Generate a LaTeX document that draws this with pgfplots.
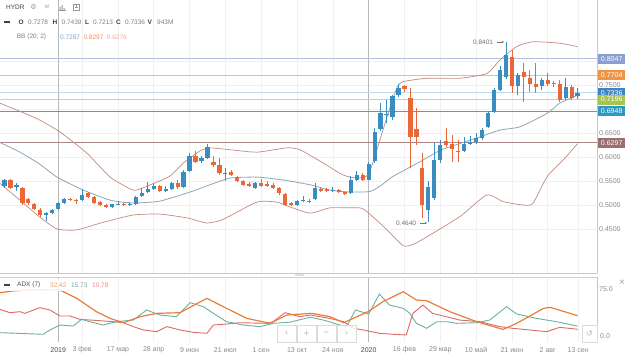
\documentclass[border=0pt]{standalone}
\usepackage{pgfplots}
\pgfplotsset{compat=1.18}
\usepackage{pgfplotstable}
\usetikzlibrary{arrows.meta}
\usepackage{fontspec}
\setmainfont{Liberation Sans}
\newfontfamily\djv{DejaVu Sans}
\newcommand\lbl{\fontsize{7}{8}\selectfont}
\newcommand\hdr{\fontsize{6.5}{7.5}\selectfont}
\definecolor{cup}{HTML}{3A8DC0}
\definecolor{cdn}{HTML}{E8683A}
\definecolor{bbout}{HTML}{C48A80}
\definecolor{bbmid}{HTML}{8FA6B8}
\definecolor{lv1}{HTML}{B5C1DE}\definecolor{lb1}{HTML}{8C9FD2}
\definecolor{lv2}{HTML}{EDB98C}\definecolor{lb2}{HTML}{EE9445}
\definecolor{lv3}{HTML}{BFDDF2}\definecolor{lb3}{HTML}{3C86C4}
\definecolor{lv4}{HTML}{D3D38A}\definecolor{lb4}{HTML}{A9C44E}
\definecolor{lv5}{HTML}{4E9FBE}\definecolor{lb5}{HTML}{2E9AC4}
\definecolor{lv6}{HTML}{AD8585}\definecolor{lb6}{HTML}{9C6E6E}
\definecolor{adxo}{HTML}{E87D3E}
\definecolor{dip}{HTML}{6DB0A0}
\definecolor{dim}{HTML}{DD6A62}
\definecolor{tickgray}{HTML}{8A8A8A}

% weekly candles, x = bar index
\pgfplotstableread{
j O H L C
0 0.540 0.555 0.536 0.552
2 0.539 0.546 0.530 0.541
7 0.479 0.486 0.466 0.483
8 0.483 0.492 0.481 0.490
9 0.491 0.507 0.489 0.505
10 0.505 0.514 0.503 0.512
13 0.511 0.533 0.509 0.520
18 0.495 0.503 0.494 0.501
19 0.501 0.508 0.499 0.503
21 0.500 0.506 0.498 0.503
22 0.502 0.519 0.500 0.517
23 0.519 0.535 0.517 0.524
24 0.526 0.548 0.524 0.533
25 0.534 0.545 0.532 0.540
27 0.530 0.540 0.527 0.533
28 0.534 0.548 0.532 0.546
30 0.537 0.572 0.535 0.569
31 0.571 0.608 0.568 0.602
33 0.592 0.603 0.588 0.597
34 0.598 0.626 0.595 0.620
37 0.566 0.576 0.549 0.567
42 0.535 0.547 0.533 0.545
49 0.500 0.511 0.497 0.508
50 0.509 0.518 0.506 0.511
52 0.513 0.545 0.511 0.535
55 0.530 0.537 0.528 0.532
58 0.524 0.560 0.522 0.552
59 0.553 0.570 0.550 0.562
61 0.553 0.590 0.551 0.586
62 0.592 0.660 0.588 0.653
63 0.658 0.712 0.655 0.692
64 0.688 0.718 0.670 0.690
65 0.683 0.730 0.678 0.726
66 0.729 0.753 0.725 0.743
71 0.490 0.550 0.465 0.537
72 0.514 0.630 0.510 0.594
73 0.594 0.635 0.588 0.625
77 0.613 0.642 0.610 0.628
78 0.627 0.643 0.625 0.632
79 0.632 0.650 0.628 0.639
80 0.639 0.660 0.636 0.656
81 0.662 0.695 0.660 0.691
82 0.694 0.744 0.692 0.740
83 0.740 0.790 0.738 0.781
84 0.767 0.8401 0.763 0.812
86 0.747 0.775 0.729 0.771
90 0.747 0.765 0.740 0.760
94 0.722 0.765 0.718 0.745
96 0.7278 0.7439 0.7213 0.7336
}\upT
\pgfplotstableread{
j O H L C
1 0.551 0.554 0.534 0.536
3 0.536 0.538 0.500 0.504
4 0.512 0.515 0.500 0.504
5 0.502 0.505 0.489 0.492
6 0.490 0.493 0.475 0.479
11 0.513 0.515 0.508 0.510
12 0.510 0.513 0.502 0.509
14 0.524 0.527 0.514 0.517
15 0.517 0.519 0.503 0.505
16 0.507 0.509 0.497 0.499
17 0.500 0.502 0.493 0.495
20 0.502 0.505 0.497 0.500
26 0.539 0.541 0.528 0.530
29 0.546 0.552 0.534 0.537
32 0.602 0.612 0.588 0.590
35 0.590 0.601 0.580 0.584
36 0.584 0.597 0.563 0.566
38 0.569 0.572 0.560 0.562
39 0.559 0.561 0.547 0.549
40 0.549 0.552 0.540 0.542
41 0.544 0.547 0.538 0.540
43 0.545 0.555 0.538 0.540
44 0.543 0.550 0.538 0.540
45 0.542 0.546 0.533 0.535
46 0.536 0.538 0.521 0.524
47 0.523 0.525 0.497 0.500
48 0.504 0.507 0.497 0.502
51 0.509 0.512 0.505 0.508
53 0.534 0.538 0.527 0.529
54 0.533 0.536 0.527 0.529
56 0.531 0.534 0.524 0.526
57 0.526 0.528 0.521 0.523
60 0.562 0.566 0.550 0.552
67 0.747 0.750 0.735 0.741
68 0.722 0.743 0.576 0.641
69 0.658 0.701 0.625 0.642
70 0.576 0.608 0.472 0.500
74 0.634 0.660 0.620 0.625
75 0.628 0.645 0.590 0.616
76 0.613 0.635 0.590 0.610
85 0.809 0.823 0.733 0.747
87 0.776 0.795 0.715 0.767
88 0.765 0.781 0.736 0.753
89 0.752 0.795 0.733 0.745
91 0.760 0.774 0.748 0.753
92 0.755 0.758 0.745 0.752
93 0.752 0.760 0.715 0.719
95 0.745 0.750 0.719 0.722
}\dnT

\begin{document}
\begin{tikzpicture}[x=1pt,y=1pt]
\useasboundingbox (0,0) rectangle (630,355);
\fill[white] (0,0) rectangle (630,355);
\tikzset{lvbox/.style={anchor=west, font=\lbl, text=white, inner xsep=2.8pt, inner ysep=0pt, minimum height=10pt, xshift=1pt},
         ptick/.style={anchor=west, font=\lbl, text=tickgray, inner sep=0pt, xshift=2pt}}

%================ price panel
\begin{axis}[
  at={(0pt,82pt)}, anchor=south west, scale only axis,
  width=597pt, height=273pt,
  xmin=-0.754, xmax=99.25, ymin=0.3583, ymax=0.927,
  clip=false, axis line style={draw=none}, major tick length=0pt,
  xtick={9,13,19,25,31,37,43,49,55,61,67,73,79,85,91,96.1},
  xticklabels={}, ytick={0.45,0.5,0.55,0.6,0.65,0.7,0.75,0.8}, yticklabels={},
  grid=major, major grid style={draw=black!6, line width=0.5pt},
]
\draw[black!28, line width=0.6pt] (axis cs:9,0.3583) -- (axis cs:9,0.927);
\draw[black!28, line width=0.6pt] (axis cs:61,0.3583) -- (axis cs:61,0.927);
\draw[black!22, line width=0.5pt] (axis cs:99.25,0.3583) -- (axis cs:99.25,0.927);
\draw[black!22, line width=0.5pt] (axis cs:-0.754,0.3583) -- (axis cs:99.25,0.3583);

% horizontal levels
\addplot[lv1, line width=0.8pt] coordinates {(-0.754,0.8047) (99.25,0.8047)};
\addplot[lv2, line width=0.8pt] coordinates {(-0.754,0.7704) (99.25,0.7704)};
\addplot[lv3, line width=0.8pt] coordinates {(-0.754,0.7336) (99.25,0.7336)};
\addplot[lv4, line width=0.8pt] coordinates {(-0.754,0.7196) (99.25,0.7196)};
\addplot[lv5, line width=0.8pt] coordinates {(-0.754,0.6948) (99.25,0.6948)};
\addplot[lv6, line width=0.8pt] coordinates {(-0.754,0.6297) (99.25,0.6297)};

% Bollinger bands
\addplot[bbout, line width=0.7pt, smooth, tension=0.35] coordinates {
(-0.754,0.712) (2.6,0.695) (5.9,0.677) (9.3,0.652) (13.8,0.608) (17.7,0.558) (21.5,0.531) (23,0.535) (25,0.545) (27.7,0.560) (30.2,0.590) (32.7,0.612) (34.4,0.619) (37.8,0.615) (42.3,0.610) (47.3,0.619) (49.5,0.615) (53.3,0.588) (56.7,0.5625) (59.0,0.556) (60.9,0.562) (62.0,0.600) (63.0,0.640) (64.5,0.700) (65.8,0.746) (66.8,0.757) (70.8,0.764) (76.3,0.764) (80.8,0.774) (83.0,0.802) (85.8,0.830) (88.5,0.840) (93.0,0.837) (96,0.8297)};
\addplot[bbmid, line width=0.8pt, smooth, tension=0.35] coordinates {
(-0.754,0.630) (2.6,0.610) (5.9,0.585) (8.8,0.558) (13.2,0.531) (17.7,0.510) (21.5,0.504) (26.0,0.508) (31.1,0.527) (34.4,0.542) (37.8,0.556) (42.3,0.558) (46.7,0.552) (51.2,0.542) (54.5,0.531) (57.9,0.527) (61.2,0.528) (63.0,0.540) (65.0,0.559) (69.6,0.590) (73.0,0.614) (76.3,0.628) (79.7,0.642) (83.0,0.656) (86.4,0.663) (90.9,0.691) (93.0,0.712) (96,0.7287)};
\addplot[bbout, line width=0.7pt, smooth, tension=0.35] coordinates {
(-0.754,0.545) (2.6,0.510) (5.9,0.475) (8.8,0.450) (12.1,0.448) (16.0,0.462) (21.5,0.479) (26.0,0.481) (30.6,0.473) (33.9,0.4625) (36.6,0.470) (42.3,0.506) (45.6,0.506) (47.8,0.496) (51.2,0.483) (54.5,0.494) (57.4,0.494) (59.9,0.493) (62.0,0.472) (64.1,0.448) (66.8,0.415) (68.5,0.418) (70.8,0.434) (76.3,0.476) (80.8,0.521) (83.5,0.507) (86.8,0.500) (88.5,0.503) (90.9,0.559) (93.6,0.594) (96,0.6276)};

% candles: wicks
\addplot[draw=none, error bars/.cd, y dir=both, y explicit, error mark=none,
  error bar style={draw=cup, line width=0.8pt}]
  table[x=j, y expr={(\thisrow{H}+\thisrow{L})/2}, y error expr={(\thisrow{H}-\thisrow{L})/2}] {\upT};
\addplot[draw=none, error bars/.cd, y dir=both, y explicit, error mark=none,
  error bar style={draw=cdn, line width=0.8pt}]
  table[x=j, y expr={(\thisrow{H}+\thisrow{L})/2}, y error expr={(\thisrow{H}-\thisrow{L})/2}] {\dnT};
% candles: bodies
\addplot[draw=none, error bars/.cd, y dir=both, y explicit, error mark=none,
  error bar style={draw=cup, line width=4.2pt}]
  table[x=j, y expr={(\thisrow{O}+\thisrow{C})/2}, y error expr={max(abs(\thisrow{C}-\thisrow{O})/2,0.0008)}] {\upT};
\addplot[draw=none, error bars/.cd, y dir=both, y explicit, error mark=none,
  error bar style={draw=cdn, line width=4.2pt}]
  table[x=j, y expr={(\thisrow{O}+\thisrow{C})/2}, y error expr={max(abs(\thisrow{C}-\thisrow{O})/2,0.0008)}] {\dnT};

% right price scale
\node[ptick] at (axis cs:99.25,0.45) {0.4500};
\node[ptick] at (axis cs:99.25,0.50) {0.5000};
\node[ptick] at (axis cs:99.25,0.55) {0.5500};
\node[ptick] at (axis cs:99.25,0.60) {0.6000};
\node[ptick] at (axis cs:99.25,0.65) {0.6500};
\node[ptick] at (axis cs:99.25,0.70) {0.7000};
\node[ptick] at (axis cs:99.25,0.75) {0.7500};
\node[ptick] at (axis cs:99.25,0.80) {0.8000};
\node[lvbox, fill=lb3] at (axis cs:99.25,0.7336) {0.7336};
\node[lvbox, fill=lb1] at (axis cs:99.25,0.8047) {0.8047};
\node[lvbox, fill=lb2] at (axis cs:99.25,0.7704) {0.7704};
\node[lvbox, fill=lb4] at (axis cs:99.25,0.7196) {0.7196};
\node[lvbox, fill=lb5] at (axis cs:99.25,0.6948) {0.6948};
\node[lvbox, fill=lb6] at (axis cs:99.25,0.6297) {0.6297};
\end{axis}

%================ ADX panel
\begin{axis}[
  at={(0pt,13pt)}, anchor=south west, scale only axis,
  width=597pt, height=65pt,
  xmin=-0.754, xmax=99.25, ymin=-9.57, ymax=94.15,
  clip=false, axis line style={draw=none}, major tick length=0pt,
  xtick={9,13,19,25,31,37,43,49,55,61,67,73,79,85,91,96.1},
  xticklabels={\textcolor{black!70}{2019},3 фев,17 мар,28 апр,9 июн,21 июл,1 сен,13 окт,24 ноя,\textcolor{black!70}{2020},16 фев,29 мар,10 май,21 июн,2 авг,13 сен},
  xticklabel style={font=\lbl, text=tickgray, anchor=center, yshift=-8pt},
  ytick=\empty, xmajorgrids, major grid style={draw=black!6, line width=0.5pt},
]
\draw[black!28, line width=0.6pt] (axis cs:9,-9.57) -- (axis cs:9,94.15);
\draw[black!28, line width=0.6pt] (axis cs:61,-9.57) -- (axis cs:61,94.15);
\draw[black!22, line width=0.5pt] (axis cs:99.25,-9.57) -- (axis cs:99.25,94.15);
\draw[black!18, line width=0.5pt] (axis cs:-0.754,94.15) -- (axis cs:99.25,94.15);

\addplot[dim, line width=0.9pt] coordinates {
(-0.754,42.5) (0.9,37.2) (2.6,38.8) (3.4,36.1) (5.9,45.2) (7.6,41.5) (9.3,31.9) (11.0,31.9) (12.6,26.6) (16.0,24.4) (18.2,22.8) (19.9,21.2) (21.6,14.9) (23.3,9.6) (25.5,6.9) (27.2,14.9) (29.4,9.6) (31.6,5.9) (33.9,4.3) (35.0,17.5) (37.2,19.1) (39.4,21.2) (44.0,20.2) (45.0,22.8) (47.0,37.2) (49.5,30.8) (51.2,33.5) (54.5,28.1) (56.8,22.8) (58.5,12.2) (60.1,9.6) (62.8,4.3) (65.1,2.7) (67.3,1.6) (68.4,36.1) (70.1,49.4) (71.7,36.1) (74.0,30.8) (76.2,25.5) (79.6,22.8) (83.0,14.9) (85.2,12.2) (88.0,9.6) (90.8,6.9) (93.0,13.8) (96,10.78)};
\addplot[dip, line width=0.9pt] coordinates {
(-0.754,5.3) (6.5,2.7) (7.6,9.6) (9.3,17.5) (11.5,15.9) (12.9,26.6) (14.3,22.8) (16.5,17.5) (18.8,22.8) (21.6,25.5) (23.8,41.5) (26.0,33.5) (28.8,30.8) (31.1,53.2) (33.3,46.8) (35.0,36.1) (37.2,22.8) (40.0,17.5) (42.8,14.9) (45.0,20.2) (47.8,22) (51.2,30) (53.6,25) (56.0,18) (57.3,15) (58.8,41.5) (61.0,35) (62.8,67) (64.5,49.4) (66.8,44.1) (67.9,36.1) (69.0,20.2) (70.7,12.2) (72.4,22.8) (74.1,22.8) (75.7,20.2) (79.1,21.2) (81.3,25.5) (84.1,46.8) (85.8,35.1) (89.1,28.1) (92.5,22.8) (96,15.73)};
\addplot[adxo, line width=1.2pt] coordinates {
(-0.754,69) (1.5,72) (5,74) (9.3,73.3) (12.1,60.1) (15.4,38.8) (17.7,28.1) (19.9,21.2) (22.7,30.8) (25.5,36.1) (29.4,37.2) (33.9,60.1) (37.2,44.1) (40.6,28.1) (44.5,20.2) (47.3,33.5) (51.5,36.1) (54.5,30.8) (56.8,21.2) (60.9,38.8) (63.4,54.8) (66.8,70.7) (69.0,57.4) (70.7,56.3) (74.6,38.8) (79.1,22.8) (83.5,10.5) (85.8,20.2) (90.3,44.1) (91.4,45.7) (96,32.42)};

\node[ptick] at (axis cs:99.25,75) {75.0};
\node[ptick, xshift=1pt] at (axis cs:99.25,0) {0.0};
\end{axis}

%================ overlays
% header
\node[anchor=west, inner sep=0pt, font=\hdr, text=black!75] at (6,348) {HYDR};
\node[inner sep=0pt, font=\djv\fontsize{7}{8}\selectfont, text=black!40] at (33.5,348) {⚙};
\node[inner sep=0pt, font=\hdr, text=black!35] at (47,348) {w};
\draw[black!40, line width=0.5pt] (58.5,344.5) -- (65.5,344.5);
\fill[black!40] (59.5,344.5) rectangle (60.5,348) (61.5,344.5) rectangle (62.5,350) (63.5,344.5) rectangle (64.5,347);
\draw[black!40, line width=0.5pt] (73,345) rectangle (79,351) (76,346.5) -- (76,349.5) (74.5,348) -- (77.5,348);

\draw[black!75, line width=1.6pt] (4,333) -- (10,333);
\tikzset{hb/.style={anchor=west, inner sep=0pt, font=\hdr\bfseries, text=black!75},
         hn/.style={anchor=west, inner sep=0pt, font=\hdr, text=black!50}}
\node[hb] at (18.5,333) {O};  \node[hn] at (28,333) {0.7278};
\node[hb] at (52.5,333) {H};  \node[hn] at (61.5,333) {0.7439};
\node[hb] at (85,333) {L};    \node[hn] at (93,333) {0.7213};
\node[hb] at (116,333) {C};   \node[hn] at (125,333) {0.7336};
\node[hb] at (147.5,333) {V}; \node[hn] at (157,333) {943M};

\node[hn] at (16.7,318) {BB (20, 2)};
\node[hn, text=lb3!70] at (60,318) {0.7287};
\node[hn, text=cdn!75] at (83.3,318) {0.8297};
\node[hn, text=dim!60] at (106.7,318) {0.6276};

% extreme labels
\node[anchor=west, inner sep=0pt, font=\hdr, text=black!55] at (396,132) {0.4640};
\draw[black!55, line width=0.5pt, -{Stealth[length=2pt,width=2pt]}] (419.5,132) -- (427,132);
\node[anchor=west, inner sep=0pt, font=\hdr, text=black!55] at (473,313) {0.8401};
\draw[black!55, line width=0.5pt, -{Stealth[length=2pt,width=2pt]}] (496.5,313) -- (504,313);

% ADX header
\fill[white, opacity=0.85] (2,64) rectangle (113,76);
\draw[black!75, line width=1.6pt] (4,70) -- (10,70);
\node[anchor=west, inner sep=0pt, font=\hdr, text=black!70] at (17,70) {ADX (7)};
\node[anchor=west, inner sep=0pt, font=\hdr, text=adxo!75] at (50,70) {32.42};
\node[anchor=west, inner sep=0pt, font=\hdr, text=dip] at (71,70) {15.73};
\node[anchor=west, inner sep=0pt, font=\hdr, text=dim!75] at (92,70) {10.78};
\node[inner sep=0pt, font=\fontsize{10}{10}\selectfont, text=black!35] at (622,72) {×};
\fill[black!12] (295,78.5) rectangle (304,81);

% navigation buttons
\draw[black!14, fill=white, fill opacity=0.8] (277,13) rectangle ++(19,17);
\draw[black!14, fill=white, fill opacity=0.8] (297,13) rectangle ++(19,17);
\draw[black!14, fill=white, fill opacity=0.8] (317,13) rectangle ++(19,17);
\draw[black!14, fill=white, fill opacity=0.8] (337,13) rectangle ++(19,17);
\node[font=\fontsize{9}{9}\selectfont, text=black!30] at (286.5,21.5) {‹};
\node[font=\fontsize{9}{9}\selectfont, text=black!30] at (306.5,21.5) {+};
\node[font=\fontsize{9}{9}\selectfont, text=black!30] at (326.5,21.5) {−};
\node[font=\fontsize{9}{9}\selectfont, text=black!30] at (346.5,21.5) {›};
\draw[black!14, fill=white, fill opacity=0.8] (582,13) rectangle (597,30);
\node[font=\djv\fontsize{8}{8}\selectfont, text=black!30] at (589.5,21.5) {↺};
\end{tikzpicture}
\end{document}
